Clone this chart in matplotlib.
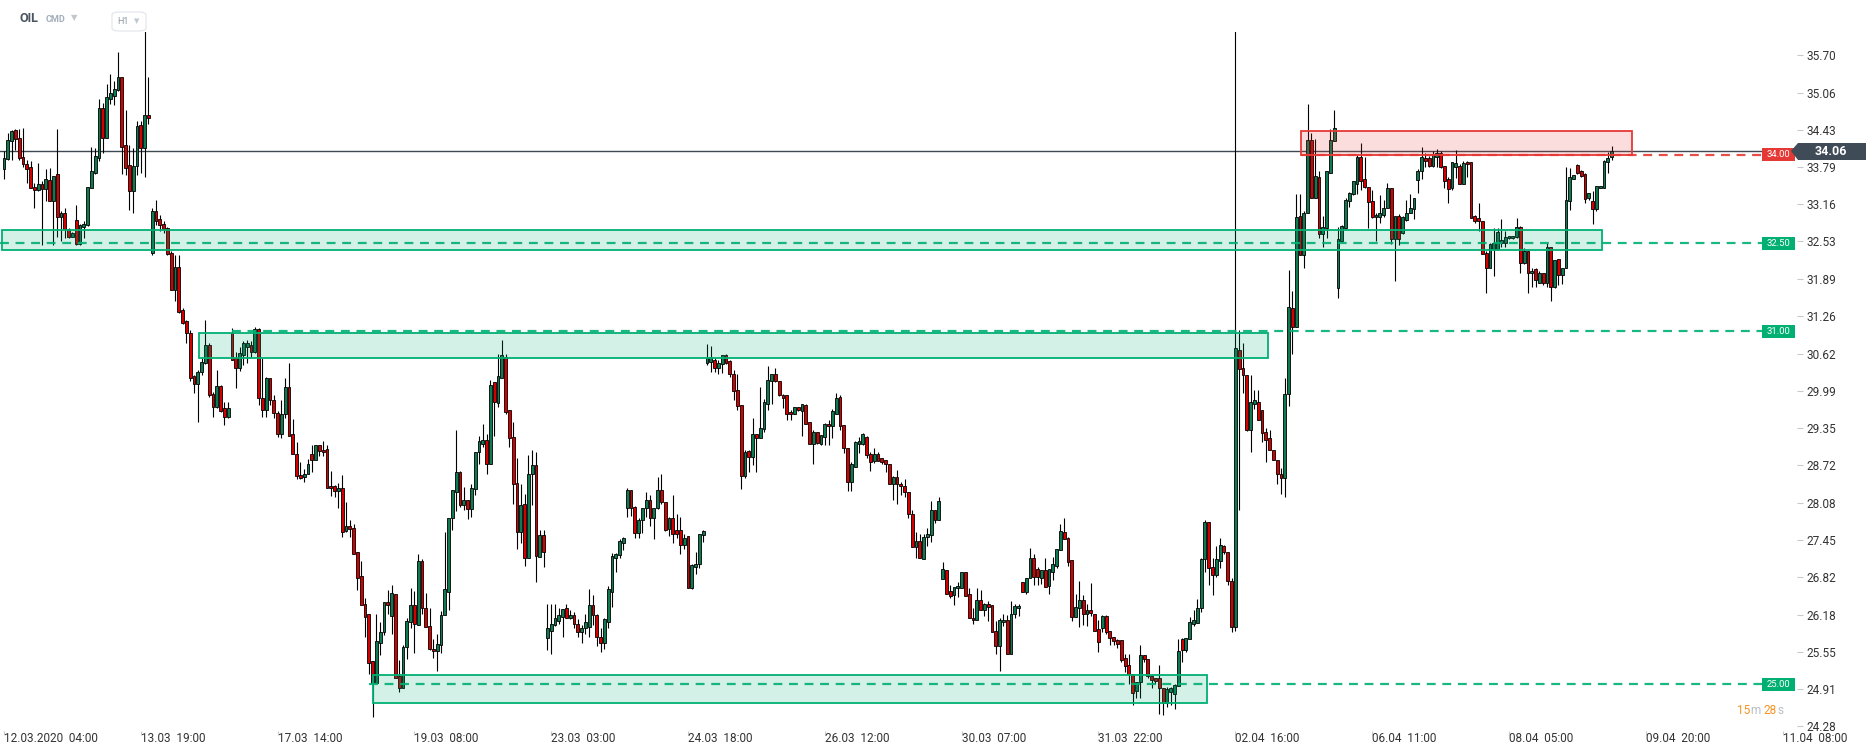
import matplotlib
matplotlib.use("Agg")
import matplotlib.pyplot as plt
from matplotlib.patches import Rectangle, Polygon, FancyBboxPatch
from matplotlib.offsetbox import TextArea, HPacker, AnnotationBbox
import numpy as np

plt.rcParams['font.family'] = ['Roboto', 'DejaVu Sans']

# OIL, H1 candles (12.03.2020 04:00 onwards)
opens = [
    33.76, 33.93, 34.24, 34.42, 34.28, 33.96, 33.84, 33.79, 33.45, 33.40,
    33.50, 33.42, 33.57, 33.22, 33.67, 32.95, 33.02, 32.74, 32.60, 32.90,
    32.49, 32.78, 32.81, 33.43, 33.70, 33.94, 34.79, 34.28, 34.95, 35.01,
    35.10, 35.32, 34.17, 33.83, 33.38, 33.81, 34.51, 34.11, 34.68, 32.34,
    33.05, 32.91, 32.82, 32.75, 32.33, 31.70, 32.09, 31.36, 31.18, 30.97,
    30.24, 30.10, 30.31, 30.47, 30.77, 29.93, 29.72, 30.07, 29.69, 29.55,
    30.98, 30.54, 30.37, 30.60, 30.74, 30.76, 30.65, 31.04, 29.86, 29.66,
    30.20, 29.83, 29.61, 29.25, 29.60, 30.05, 29.25, 28.91, 28.55, 28.53,
    28.58, 28.91, 28.82, 29.06, 28.99, 29.00, 28.37, 28.37, 28.29, 28.34,
    27.61, 27.69, 27.65, 27.24, 26.84, 26.36, 26.19, 25.39, 25.02, 25.70,
    25.88, 26.40, 26.16, 26.54, 25.14, 24.93, 25.63, 26.06, 26.35, 26.01,
    27.09, 26.30, 25.99, 25.60, 25.57, 25.66, 26.17, 26.57, 27.83, 28.27,
    28.60, 28.05, 28.14, 27.98, 28.32, 28.94, 29.09, 29.15, 28.74, 30.13,
    29.78, 30.20, 30.56, 29.66, 29.20, 28.42, 27.59, 28.07, 27.15, 28.58,
    28.72, 27.17, 27.53, 25.78, 25.91, 26.00, 26.08, 26.14, 26.29, 26.13,
    26.17, 26.02, 25.88, 25.95, 25.98, 26.34, 26.17, 25.80, 25.70, 26.05,
    26.57, 27.14, 27.20, 27.40, 27.99, 28.30, 28.02, 27.57, 27.79, 28.00,
    28.13, 27.83, 28.00, 28.31, 28.09, 27.63, 27.82, 27.62, 27.62, 27.36,
    27.52, 26.64, 26.99, 27.05, 27.53, 30.47, 30.48, 30.51, 30.38, 30.45,
    30.59, 30.49, 30.28, 30.01, 29.74, 28.54, 28.96, 28.87, 29.25, 29.19,
    29.34, 29.76, 30.16, 30.27, 30.15, 29.91, 29.91, 29.63, 29.59, 29.72,
    29.65, 29.74, 29.45, 29.09, 29.28, 29.09, 29.21, 29.43, 29.39, 29.60,
    29.88, 29.40, 29.02, 28.44, 28.70, 29.09, 29.09, 29.21, 28.91, 28.80,
    28.91, 28.84, 28.82, 28.75, 28.40, 28.53, 28.41, 28.37, 28.27, 27.90,
    27.34, 27.43, 27.12, 27.50, 27.53, 27.97, 27.80, 26.78, 26.94, 26.58,
    26.51, 26.63, 26.64, 26.90, 26.54, 26.13, 26.09, 26.43, 26.26, 26.36,
    26.34, 25.91, 25.65, 26.06, 26.09, 25.51, 26.20, 26.29, 26.73, 26.57,
    26.80, 27.15, 26.95, 26.81, 26.94, 26.67, 26.91, 27.01, 27.28, 27.58,
    27.48, 27.11, 26.14, 26.30, 26.43, 26.19, 26.26, 26.20, 25.94, 25.95,
    26.16, 25.90, 25.80, 25.75, 25.75, 25.45, 25.32, 25.18, 24.88, 25.03,
    25.50, 25.42, 25.14, 25.11, 25.10, 24.93, 24.68, 24.87, 24.84, 24.97,
    25.77, 25.58, 25.76, 26.03, 26.04, 26.30, 27.12, 27.75, 26.99, 26.85,
    27.10, 27.35, 27.24, 26.76, 25.97, 30.68, 30.38, 30.25, 29.32, 29.76,
    29.80, 29.66, 29.28, 29.18, 28.99, 28.82, 28.58, 28.50, 29.93, 31.39,
    31.08, 32.96, 32.29, 33.01, 34.26, 33.27, 33.62, 32.65, 32.76, 33.70,
    34.24, 31.74, 32.54, 32.75, 33.22, 33.34, 33.50, 33.96, 33.59, 33.45,
    33.22, 32.94, 32.94, 32.98, 33.09, 33.43, 32.57, 32.96, 32.67, 32.90,
    33.02, 33.08, 33.57, 33.72, 33.94, 33.94, 33.82, 33.97, 34.03, 33.81,
    33.59, 33.43, 33.79, 33.81, 33.50, 33.88, 33.88, 32.96, 32.92, 32.88,
    32.33, 32.08, 32.40, 32.40, 32.51, 32.51, 32.58, 32.58, 32.61, 32.78,
    32.17, 32.37, 31.99, 32.06, 31.83, 31.99, 31.82, 32.44, 31.75, 32.23,
    31.95, 32.07, 33.21, 33.59, 33.83, 33.73, 33.68, 33.26, 33.21, 33.08,
    33.43, 33.43, 33.88, 33.96,
]
highs = [
    34.06, 34.38, 34.42, 34.44, 34.44, 34.45, 33.91, 33.89, 33.52, 33.86,
    33.55, 33.76, 33.78, 33.65, 34.44, 33.04, 33.10, 32.76, 32.69, 33.15,
    32.82, 32.87, 33.45, 34.13, 34.12, 34.95, 34.88, 35.20, 35.37, 35.25,
    35.75, 35.33, 34.76, 34.17, 34.12, 34.57, 34.57, 36.20, 35.33, 33.09,
    33.23, 32.98, 32.87, 32.78, 32.36, 32.30, 32.30, 31.39, 31.19, 31.02,
    30.26, 30.34, 30.54, 31.19, 30.80, 29.97, 30.34, 30.09, 29.80, 29.80,
    31.06, 30.65, 30.74, 30.83, 30.85, 30.83, 31.08, 31.05, 30.54, 30.22,
    30.21, 29.92, 29.65, 29.83, 30.20, 30.47, 29.51, 29.11, 28.77, 28.66,
    28.83, 29.06, 29.06, 29.06, 29.13, 29.06, 28.62, 28.38, 28.42, 28.55,
    28.10, 27.80, 27.72, 27.24, 27.09, 26.46, 26.19, 25.39, 26.19, 26.06,
    26.40, 26.60, 26.68, 26.54, 25.41, 25.67, 26.12, 26.64, 26.58, 27.22,
    27.12, 26.55, 26.30, 25.76, 25.85, 26.25, 27.58, 27.83, 28.30, 29.32,
    28.62, 28.36, 28.14, 28.40, 28.94, 29.22, 29.43, 29.25, 30.17, 30.13,
    30.61, 30.86, 30.62, 29.66, 29.45, 28.85, 28.40, 28.24, 28.89, 28.99,
    28.94, 27.62, 27.62, 26.37, 26.36, 26.36, 26.29, 26.27, 26.36, 26.26,
    26.22, 26.10, 26.00, 26.20, 26.61, 26.51, 26.20, 25.95, 26.12, 26.67,
    27.23, 27.23, 27.46, 27.51, 28.33, 28.30, 28.03, 27.82, 28.00, 28.27,
    28.21, 28.00, 28.53, 28.57, 28.09, 27.85, 28.21, 27.90, 27.85, 27.56,
    27.52, 27.04, 27.24, 27.55, 27.62, 30.79, 30.75, 30.54, 30.51, 30.59,
    30.61, 30.51, 30.35, 30.27, 29.74, 28.98, 28.98, 29.52, 29.26, 30.05,
    29.85, 30.41, 30.28, 30.37, 30.16, 29.94, 29.91, 29.66, 29.72, 29.72,
    29.77, 29.77, 29.45, 29.32, 29.29, 29.23, 29.44, 29.50, 29.68, 29.95,
    29.91, 29.40, 29.02, 28.78, 29.13, 29.21, 29.27, 29.22, 28.95, 29.01,
    28.95, 28.85, 28.82, 28.75, 28.54, 28.64, 28.43, 28.49, 28.27, 27.96,
    27.59, 27.56, 27.56, 27.65, 28.11, 27.97, 28.19, 27.08, 26.94, 26.68,
    26.66, 26.74, 26.90, 26.90, 26.63, 26.29, 26.63, 26.60, 26.38, 26.41,
    26.34, 26.08, 26.12, 26.20, 26.17, 26.41, 26.36, 26.36, 26.73, 26.81,
    27.31, 27.21, 27.00, 26.94, 27.14, 26.96, 27.17, 27.29, 27.72, 27.83,
    27.51, 27.11, 26.53, 26.75, 26.51, 26.37, 26.72, 26.20, 26.09, 26.17,
    26.17, 25.90, 25.80, 25.76, 25.75, 25.52, 25.52, 25.18, 25.03, 25.66,
    25.50, 25.42, 25.14, 25.11, 25.32, 24.93, 24.95, 24.95, 25.00, 25.76,
    25.79, 25.79, 26.14, 26.26, 26.44, 27.15, 27.79, 27.75, 27.14, 27.35,
    27.48, 27.37, 27.24, 26.80, 36.50, 31.03, 30.80, 30.25, 30.25, 30.01,
    30.00, 29.66, 29.36, 29.32, 28.99, 28.82, 28.67, 30.21, 32.04, 31.68,
    33.33, 33.33, 33.05, 34.87, 34.37, 34.27, 33.73, 32.96, 33.73, 34.44,
    34.76, 32.78, 32.81, 33.26, 33.37, 33.56, 34.00, 34.20, 33.96, 33.45,
    33.40, 33.01, 33.32, 33.23, 33.52, 33.43, 32.96, 33.00, 32.96, 33.23,
    33.33, 33.27, 33.76, 34.14, 34.03, 33.98, 34.06, 34.10, 34.06, 33.81,
    33.63, 33.88, 34.09, 33.85, 33.89, 33.89, 33.88, 32.98, 33.18, 32.88,
    32.36, 32.50, 32.75, 32.75, 32.91, 32.70, 32.63, 32.63, 32.92, 32.79,
    32.42, 32.37, 32.07, 32.07, 32.03, 31.99, 32.51, 32.44, 32.22, 32.23,
    32.07, 33.80, 33.77, 33.66, 33.84, 33.74, 33.69, 33.35, 33.38, 33.47,
    33.47, 33.91, 34.05, 34.15,
]
lows = [
    33.59, 33.91, 33.91, 34.08, 33.91, 33.80, 33.53, 33.43, 33.10, 33.38,
    32.47, 33.22, 33.21, 32.47, 32.60, 32.54, 32.58, 32.58, 32.60, 32.47,
    32.47, 32.58, 32.80, 33.43, 33.68, 33.90, 34.03, 34.28, 34.87, 34.85,
    35.08, 33.67, 33.66, 33.06, 33.01, 33.66, 33.69, 33.63, 34.52, 32.30,
    32.81, 32.70, 32.67, 32.30, 31.70, 31.52, 31.32, 31.12, 30.80, 30.16,
    29.95, 29.46, 30.26, 30.45, 29.89, 29.55, 29.69, 29.63, 29.41, 29.52,
    30.52, 30.03, 30.32, 30.42, 30.46, 30.57, 30.63, 29.75, 29.55, 29.55,
    29.75, 29.52, 29.20, 29.18, 29.53, 29.22, 28.91, 28.49, 28.49, 28.44,
    28.58, 28.61, 28.82, 28.88, 28.88, 28.33, 28.20, 28.19, 28.00, 27.50,
    27.59, 27.50, 27.21, 26.60, 26.35, 25.80, 25.18, 24.44, 25.02, 25.49,
    25.83, 26.20, 25.86, 25.11, 24.87, 24.93, 25.42, 25.95, 25.53, 26.01,
    26.20, 25.97, 25.58, 25.45, 25.23, 25.53, 26.17, 26.26, 27.62, 27.95,
    28.02, 27.96, 27.81, 27.85, 28.21, 28.74, 29.04, 28.57, 28.74, 29.22,
    29.72, 30.20, 29.60, 29.04, 28.07, 27.29, 27.40, 27.01, 27.15, 28.04,
    26.74, 27.17, 26.99, 25.58, 25.51, 25.99, 26.03, 25.80, 26.13, 26.10,
    25.95, 25.80, 25.70, 25.85, 25.80, 26.00, 25.65, 25.55, 25.60, 25.95,
    26.31, 26.91, 27.15, 27.28, 27.85, 27.86, 27.49, 27.48, 27.57, 27.85,
    27.69, 27.46, 27.98, 28.07, 27.61, 27.52, 27.40, 27.48, 27.21, 27.29,
    26.64, 26.61, 26.88, 26.98, 27.42, 30.42, 30.31, 30.31, 30.27, 30.29,
    30.45, 30.23, 29.84, 29.66, 28.32, 28.51, 28.61, 28.72, 28.61, 29.19,
    29.28, 29.67, 29.77, 30.14, 29.90, 29.69, 29.49, 29.50, 29.59, 29.65,
    29.22, 29.42, 29.08, 28.75, 29.09, 29.06, 29.06, 29.06, 29.19, 29.60,
    29.32, 28.93, 28.29, 28.29, 28.70, 28.93, 29.06, 28.85, 28.63, 28.76,
    28.79, 28.75, 28.61, 28.40, 28.14, 28.07, 28.21, 28.19, 27.83, 27.34,
    27.14, 27.14, 27.12, 27.35, 27.42, 27.74, 27.80, 26.78, 26.53, 26.46,
    26.35, 26.49, 26.64, 26.50, 26.12, 26.03, 26.09, 26.26, 26.16, 26.08,
    25.88, 25.52, 25.23, 25.99, 25.52, 25.51, 26.12, 26.16, 26.57, 26.54,
    26.80, 26.68, 26.68, 26.71, 26.66, 26.54, 26.77, 26.97, 27.28, 27.46,
    27.01, 26.08, 26.14, 25.97, 26.00, 25.99, 26.16, 25.91, 25.55, 25.89,
    25.86, 25.66, 25.66, 25.61, 25.38, 25.21, 25.01, 24.64, 24.76, 24.76,
    25.38, 25.10, 24.93, 25.01, 24.50, 24.47, 24.61, 24.64, 24.57, 24.97,
    25.38, 25.55, 25.76, 25.99, 26.04, 26.23, 26.91, 26.69, 26.51, 26.82,
    26.97, 27.22, 26.68, 25.88, 25.91, 27.97, 29.95, 29.31, 28.95, 29.68,
    29.49, 29.12, 28.78, 28.98, 28.81, 28.40, 28.23, 28.19, 29.73, 30.61,
    31.08, 32.29, 32.08, 33.01, 33.27, 33.27, 32.59, 32.44, 32.59, 33.70,
    34.24, 31.57, 32.54, 32.75, 33.12, 33.32, 33.34, 33.40, 33.43, 32.76,
    32.92, 32.54, 32.85, 32.94, 33.09, 32.49, 31.86, 32.47, 32.65, 32.87,
    33.02, 32.91, 33.35, 33.59, 33.80, 33.79, 33.80, 33.80, 33.78, 33.43,
    33.19, 33.40, 33.60, 33.50, 33.50, 33.63, 32.92, 32.85, 32.70, 32.31,
    31.66, 32.07, 31.94, 32.38, 32.44, 32.44, 32.57, 32.57, 32.58, 31.99,
    32.14, 31.66, 31.75, 31.75, 31.82, 31.79, 31.75, 31.52, 31.73, 31.79,
    31.80, 32.07, 33.06, 33.59, 33.68, 33.63, 33.19, 33.23, 32.82, 33.05,
    33.43, 33.43, 33.69, 33.91,
]
closes = [
    33.94, 34.25, 34.41, 34.27, 33.94, 33.84, 33.76, 33.43, 33.40, 33.50,
    33.42, 33.59, 33.22, 33.65, 32.94, 33.01, 32.74, 32.60, 32.68, 32.49,
    32.81, 32.82, 33.45, 33.73, 33.98, 34.79, 34.28, 34.99, 35.05, 35.12,
    35.32, 34.14, 33.78, 33.38, 33.81, 34.49, 34.12, 34.68, 34.63, 33.05,
    32.87, 32.81, 32.74, 32.31, 31.70, 32.09, 31.33, 31.15, 30.97, 30.20,
    30.10, 30.31, 30.48, 30.77, 29.91, 29.72, 30.07, 29.65, 29.54, 29.69,
    30.52, 30.37, 30.64, 30.81, 30.81, 30.65, 31.04, 29.86, 29.66, 30.20,
    29.83, 29.61, 29.25, 29.60, 30.05, 29.22, 28.91, 28.54, 28.51, 28.57,
    28.75, 28.82, 29.06, 28.97, 28.95, 28.33, 28.33, 28.29, 28.34, 27.59,
    27.69, 27.64, 27.22, 26.81, 26.35, 26.14, 25.36, 25.02, 25.73, 25.89,
    26.40, 26.35, 26.55, 25.11, 24.93, 25.63, 26.07, 26.35, 26.03, 27.09,
    26.30, 25.97, 25.60, 25.57, 25.68, 26.17, 26.62, 27.83, 28.30, 28.60,
    28.05, 28.14, 27.98, 28.34, 28.94, 29.13, 29.15, 28.74, 30.08, 29.80,
    30.24, 30.59, 29.63, 29.19, 28.40, 27.59, 28.04, 27.14, 28.58, 28.72,
    27.18, 27.54, 27.25, 25.95, 26.03, 26.12, 26.17, 26.27, 26.13, 26.17,
    26.02, 25.88, 25.95, 26.05, 26.34, 26.17, 25.80, 25.70, 26.10, 26.61,
    27.18, 27.22, 27.44, 27.49, 28.30, 28.00, 27.57, 27.80, 28.00, 28.14,
    27.83, 28.00, 28.31, 28.09, 27.62, 27.82, 27.56, 27.55, 27.36, 27.49,
    26.64, 27.02, 27.05, 27.55, 27.60, 30.54, 30.56, 30.38, 30.47, 30.59,
    30.47, 30.27, 29.99, 29.73, 28.54, 28.95, 28.87, 29.25, 29.19, 29.35,
    29.80, 30.17, 30.27, 30.15, 29.91, 29.87, 29.60, 29.59, 29.72, 29.66,
    29.76, 29.43, 29.09, 29.28, 29.10, 29.23, 29.43, 29.39, 29.64, 29.86,
    29.39, 29.01, 28.43, 28.74, 29.11, 29.13, 29.26, 28.89, 28.78, 28.91,
    28.80, 28.78, 28.74, 28.40, 28.53, 28.40, 28.37, 28.26, 27.89, 27.34,
    27.43, 27.14, 27.51, 27.55, 27.97, 27.80, 28.11, 26.95, 26.54, 26.50,
    26.66, 26.67, 26.90, 26.50, 26.12, 26.09, 26.43, 26.26, 26.36, 26.32,
    25.88, 25.65, 26.09, 26.09, 25.52, 26.20, 26.33, 26.33, 26.57, 26.81,
    27.15, 26.83, 26.83, 26.94, 26.66, 26.96, 27.04, 27.29, 27.60, 27.46,
    27.08, 26.14, 26.32, 26.43, 26.19, 26.26, 26.21, 25.91, 25.72, 26.16,
    25.89, 25.79, 25.74, 25.69, 25.41, 25.31, 25.18, 24.85, 25.03, 25.50,
    25.42, 25.14, 25.07, 25.06, 24.93, 24.68, 24.91, 24.94, 24.99, 25.56,
    25.58, 25.79, 26.05, 26.09, 26.30, 27.12, 27.75, 26.97, 26.85, 27.13,
    27.37, 27.24, 26.76, 25.97, 30.71, 30.36, 30.25, 29.32, 29.79, 29.83,
    29.50, 29.27, 29.15, 28.99, 28.82, 28.57, 28.50, 29.94, 31.41, 31.08,
    32.95, 32.29, 33.01, 34.26, 33.27, 33.64, 32.65, 32.78, 33.72, 34.26,
    34.45, 32.57, 32.80, 33.23, 33.36, 33.55, 33.96, 33.56, 33.45, 33.20,
    32.95, 32.98, 33.01, 33.09, 33.43, 32.57, 32.96, 32.57, 32.95, 33.02,
    33.09, 33.26, 33.73, 33.96, 33.89, 33.82, 34.01, 34.03, 33.80, 33.56,
    33.42, 33.88, 33.86, 33.50, 33.86, 33.84, 32.93, 32.88, 32.88, 32.31,
    32.08, 32.49, 32.50, 32.69, 32.55, 32.61, 32.62, 32.62, 32.78, 32.17,
    32.36, 31.99, 32.03, 31.87, 31.99, 31.82, 32.44, 31.75, 32.21, 31.95,
    32.07, 33.23, 33.62, 33.66, 33.69, 33.65, 33.25, 33.35, 33.08, 33.47,
    33.47, 33.90, 33.95, 34.06,
]

time_labels = ['12.03.2020  04:00', '13.03  19:00', '17.03  14:00', '19.03  08:00',
               '23.03  03:00', '24.03  18:00', '26.03  12:00', '30.03  07:00',
               '31.03  22:00', '02.04  16:00', '06.04  11:00', '08.04  05:00',
               '09.04  20:00', '11.04  08:00']
label_step = 36
price_ticks = [35.70, 35.06, 34.43, 33.79, 33.16, 32.53, 31.89, 31.26, 30.62, 29.99,
               29.35, 28.72, 28.08, 27.45, 26.82, 26.18, 25.55, 24.91, 24.28]
last_price = 34.06

# horizontal levels and zones drawn on the chart
level_prices = [34.00, 32.50, 31.00, 25.00]
level_kinds = ['res', 'sup', 'sup', 'sup']
zone_low = [34.00, 32.38, 30.55, 24.68]
zone_high = [34.40, 32.72, 30.98, 25.15]

GREEN = '#0f7a50'
RED = '#d40000'
LVL_GREEN = '#00b073'
LVL_RED = '#e53935'

o = np.array(opens)
h = np.array(highs)
l = np.array(lows)
c = np.array(closes)
x = np.arange(len(c))

fig = plt.figure(figsize=(18.66, 7.56), dpi=100)
ax = fig.add_axes([0, 25 / 756, 1797 / 1866, 699 / 756])
ax.set_xlim(-1.05, 471.8)
ax.set_ylim(24.203, 36.091)
for s in ax.spines.values():
    s.set_visible(False)

# zones (semi-transparent, over the candles like the source)
zone_x = [(341.3, 428.4), (-0.5, 420.6), (51.3, 332.6), (97.1, 316.6)]
for (x0, x1), lo, hi, kind in zip(zone_x, zone_low, zone_high, level_kinds):
    col = LVL_RED if kind == 'res' else LVL_GREEN
    ax.add_patch(Rectangle((x0, lo), x1 - x0, hi - lo, facecolor=col, alpha=0.17,
                           edgecolor='none', zorder=5))
    ax.add_patch(Rectangle((x0, lo), x1 - x0, hi - lo, facecolor='none',
                           edgecolor=col, lw=1.3, zorder=5))

# last price line
ax.axhline(last_price, color='#3d4852', lw=1.0, zorder=2)

# candles
up = c >= o
ax.vlines(x, l, h, color='black', lw=0.8, zorder=3)
body_lo = np.minimum(o, c)
body_h = np.maximum(np.abs(c - o), 0.012)
ax.bar(x, body_h, bottom=body_lo, width=0.74, color=np.where(up, GREEN, RED),
       edgecolor='black', linewidth=0.6, zorder=4)

# dashed levels + tags
dash_start = [341.3, -1.05, 60.0, 96.0]
tag_x0, tag_x1 = 462.6, 471.3
for lv, kind, xs in zip(level_prices, level_kinds, dash_start):
    col = LVL_RED if kind == 'res' else LVL_GREEN
    ax.plot([xs, tag_x0], [lv, lv], color=col, lw=1.6, alpha=0.9,
            dashes=(4, 3), zorder=6)
    ax.add_patch(Rectangle((tag_x0, lv - 0.11), tag_x1 - tag_x0, 0.22,
                           facecolor=col, edgecolor='none', zorder=7))
    ax.text((tag_x0 + tag_x1) / 2, lv, f'{lv:.2f}', color='white', fontsize=6.8,
            ha='center', va='center', zorder=8)

# axes ticks
ax.yaxis.tick_right()
ax.set_yticks(price_ticks)
ax.set_yticklabels([f'{p:.2f}' for p in price_ticks])
ax.tick_params(axis='y', length=4, width=0.8, color='#c5cad0', pad=2.5,
               labelsize=8.5, labelcolor='#333333')
ax.set_xticks([i * label_step for i in range(len(time_labels))])
ax.set_xticklabels(time_labels, ha='left')
ax.tick_params(axis='x', length=3, width=0.8, color='#c5cad0', pad=-2,
               labelsize=8.5, labelcolor='#333333')

# current price tag (figure pixels)
W, H = 1866, 756
pts = [(1791, 151), (1798, 143), (1866, 143), (1866, 160), (1798, 160)]
fig.add_artist(Polygon([(px / W, 1 - py / H) for px, py in pts], closed=True,
                       facecolor='#3f4b56', edgecolor='none', transform=fig.transFigure))
fig.text(1831 / W, 1 - 151.5 / H, f'{last_price:.2f}', color='white', fontsize=9,
         fontweight='bold', ha='center', va='center')

# header
fig.text(19 / W, 1 - 19 / H, 'OIL', color='#4b5560', fontsize=9, fontweight='bold',
         va='center')
fig.text(46 / W, 1 - 19 / H, 'CMD', color='#a3afba', fontsize=6.5, fontweight='bold',
         va='center')
fig.text(71 / W, 1 - 18 / H, '▼', color='#c0c7ce', fontsize=6, va='center',
         family='DejaVu Sans')
fig.add_artist(FancyBboxPatch((112 / W, 1 - 31 / H), 34 / W, 19 / H,
                              boxstyle='round,pad=0,rounding_size=0.004',
                              facecolor='white', edgecolor='#e0e4e8', lw=0.8,
                              transform=fig.transFigure))
fig.text(117 / W, 1 - 21 / H, 'H1', color='#8d98a2', fontsize=6.5, va='center')
fig.text(134 / W, 1 - 21 / H, '▼', color='#c0c7ce', fontsize=5, va='center',
         family='DejaVu Sans')

# countdown
parts = [('15', '#f7931e'), ('m ', '#b8bec4'), ('28', '#f7931e'), ('s', '#b8bec4')]
box = HPacker(children=[TextArea(t, textprops=dict(color=col, fontsize=8.5))
                        for t, col in parts], pad=0, sep=0)
fig.add_artist(AnnotationBbox(box, (1783, 756 - 711), xycoords='figure pixels',
                              box_alignment=(1, 0.5), frameon=False))

fig.savefig('out.png', dpi=100)
